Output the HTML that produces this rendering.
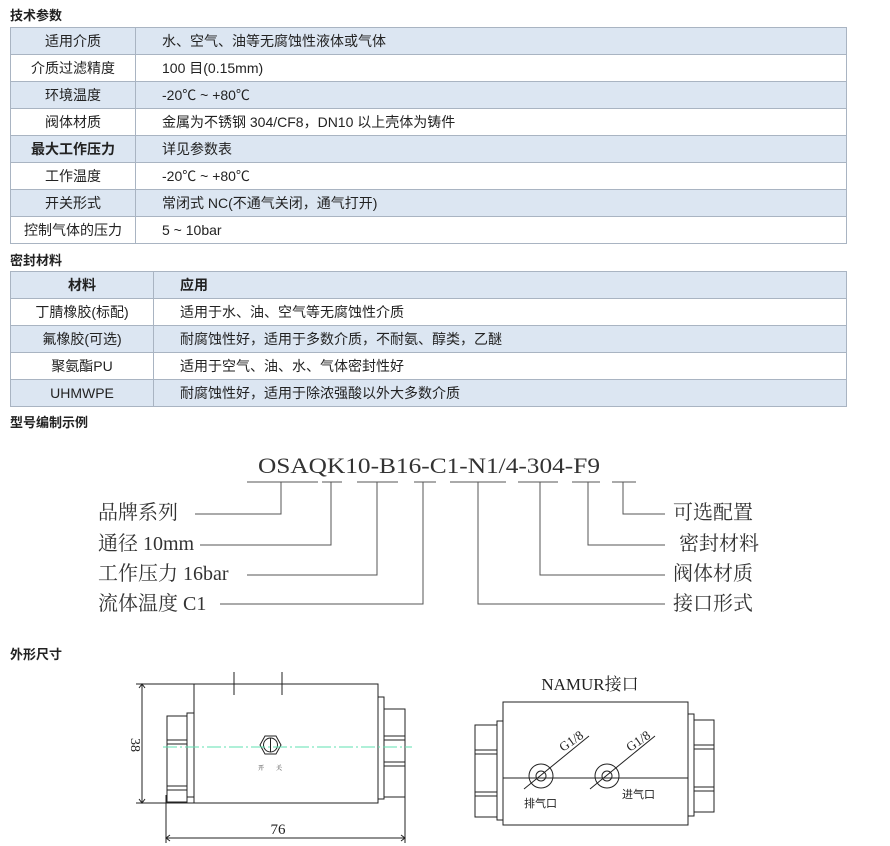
<!DOCTYPE html>
<html><head><meta charset="utf-8"><style>
body{margin:0;width:890px;height:846px;background:#fff;font-family:"Liberation Sans","Noto Sans CJK SC",sans-serif;font-size:14px;color:#222;position:relative;overflow:hidden}
.h{position:absolute;left:10px;font-weight:bold;font-size:13px}
table{position:absolute;left:10px;width:837px;border-collapse:collapse;table-layout:fixed}
td{border:1px solid #a9b4c2;height:26px;padding:0;line-height:26px;white-space:nowrap;font-size:14px}
td.c{text-align:center}
td.v{padding-left:26px}
tr.b td{background:#dce6f2}
.bold td{font-weight:bold}
</style></head><body>
<div class="h" style="top:5px">技术参数</div>
<table style="top:27px">
<col style="width:125px"><col>
<tr class="b"><td class="c">适用介质</td><td class="v">水、空气、油等无腐蚀性液体或气体</td></tr>
<tr><td class="c">介质过滤精度</td><td class="v">100 目(0.15mm)</td></tr>
<tr class="b"><td class="c">环境温度</td><td class="v">-20℃ ~ +80℃</td></tr>
<tr><td class="c">阀体材质</td><td class="v">金属为不锈钢 304/CF8，DN10 以上壳体为铸件</td></tr>
<tr class="b"><td class="c" style="font-weight:bold">最大工作压力</td><td class="v">详见参数表</td></tr>
<tr><td class="c">工作温度</td><td class="v">-20℃ ~ +80℃</td></tr>
<tr class="b"><td class="c">开关形式</td><td class="v">常闭式 NC(不通气关闭，通气打开)</td></tr>
<tr><td class="c">控制气体的压力</td><td class="v">5 ~ 10bar</td></tr>
</table>
<div class="h" style="top:250px">密封材料</div>
<table style="top:271px">
<col style="width:143px"><col>
<tr class="b bold"><td class="c">材料</td><td class="v">应用</td></tr>
<tr><td class="c">丁腈橡胶(标配)</td><td class="v">适用于水、油、空气等无腐蚀性介质</td></tr>
<tr class="b"><td class="c">氟橡胶(可选)</td><td class="v">耐腐蚀性好，适用于多数介质，不耐氨、醇类，乙醚</td></tr>
<tr><td class="c">聚氨酯PU</td><td class="v">适用于空气、油、水、气体密封性好</td></tr>
<tr class="b"><td class="c">UHMWPE</td><td class="v">耐腐蚀性好，适用于除浓强酸以外大多数介质</td></tr>
</table>
<div class="h" style="top:412px">型号编制示例</div>
<div class="h" style="top:644px">外形尺寸</div>
<svg width="890" height="846" style="position:absolute;left:0;top:0" font-family="'Liberation Serif','Noto Serif CJK SC',serif">
<g fill="#333">
<text x="258" y="473" font-size="22" textLength="342" lengthAdjust="spacingAndGlyphs">OSAQK10-B16-C1-N1/4-304-F9</text>
<g font-size="20">
<text x="98" y="519">品牌系列</text>
<text x="98" y="550">通径 10mm</text>
<text x="98" y="580">工作压力 16bar</text>
<text x="98" y="610">流体温度 C1</text>
<text x="673" y="519">可选配置</text>
<text x="679" y="550">密封材料</text>
<text x="673" y="580">阀体材质</text>
<text x="673" y="610">接口形式</text>
</g></g>
<g stroke="#555" stroke-width="1" fill="none">
<path d="M247 482H318M322 482H342M357 482H398M414 482H436M450 482H506M518 482H558M572 482H600M612 482H636"/>
<path d="M281 482V514H195M331 482V545H200M377 482V575H247M423 482V604H220"/>
<path d="M478 482V604H665M540 482V575H665M588 482V545H665M623 482V514H665"/>
</g>
<g stroke="#222" stroke-width="1" fill="none">
<rect x="194" y="684" width="184" height="119"/>
<path d="M234 672V695M282 672V695"/>
<rect x="187" y="713" width="7" height="84"/>
<rect x="167" y="716" width="20" height="86"/>
<path d="M167 740H187M167 744H187M167 786H187M167 790H187"/>
<rect x="378" y="697" width="6" height="102"/>
<rect x="384" y="709" width="21" height="88"/>
<path d="M384 736H405M384 740H405M384 762H405M384 766H405"/>
<path d="M136 684H194M136 803H194M142 684V803M166 795V843M405 795V843M166 838H405"/>
<path d="M139 688l3-4 3 4M139 799l3 4 3-4M170 835l-4 3 4 3M401 835l4 3-4 3"/>
<polygon points="260,745 265,736 276,736 281,745 276,754 265,754"/>
<circle cx="270.5" cy="745" r="7"/>
<path d="M270.5 738V752"/>
</g>
<path d="M163 747H412" stroke="#5fe0b0" stroke-width="1" stroke-dasharray="14,3,2,3"/>
<text x="131" y="745" font-size="14" transform="rotate(90 131 745)" text-anchor="middle" fill="#222">38</text>
<text x="278" y="834" font-size="15" text-anchor="middle" fill="#222">76</text>
<text x="258" y="770" font-size="6" fill="#222">开　　关</text>
<text x="590" y="690" font-size="17" text-anchor="middle" fill="#222">NAMUR接口</text>
<g stroke="#222" stroke-width="1" fill="none">
<rect x="503" y="702" width="185" height="123"/>
<path d="M503 778H688"/>
<rect x="497" y="721" width="6" height="99"/>
<rect x="475" y="725" width="22" height="92"/>
<path d="M475 750H497M475 754H497M475 792H497M475 796H497"/>
<rect x="688" y="714" width="6" height="102"/>
<rect x="694" y="720" width="20" height="92"/>
<path d="M694 745H714M694 749H714M694 787H714M694 791H714"/>
<circle cx="541" cy="776" r="12"/><circle cx="541" cy="776" r="5"/>
<circle cx="607" cy="776" r="12"/><circle cx="607" cy="776" r="5"/>
<path d="M524 789L589 736M590 789L655 736"/>
</g>
<text x="563" y="752" font-size="13" fill="#222" transform="rotate(-35 563 752)">G1/8</text>
<text x="630" y="752" font-size="13" fill="#222" transform="rotate(-35 630 752)">G1/8</text>
<text x="524" y="807" font-size="11" fill="#222" font-family="'Liberation Sans','Noto Sans CJK SC',sans-serif">排气口</text>
<text x="622" y="798" font-size="11" fill="#222" font-family="'Liberation Sans','Noto Sans CJK SC',sans-serif">进气口</text>
</svg>
</body></html>
